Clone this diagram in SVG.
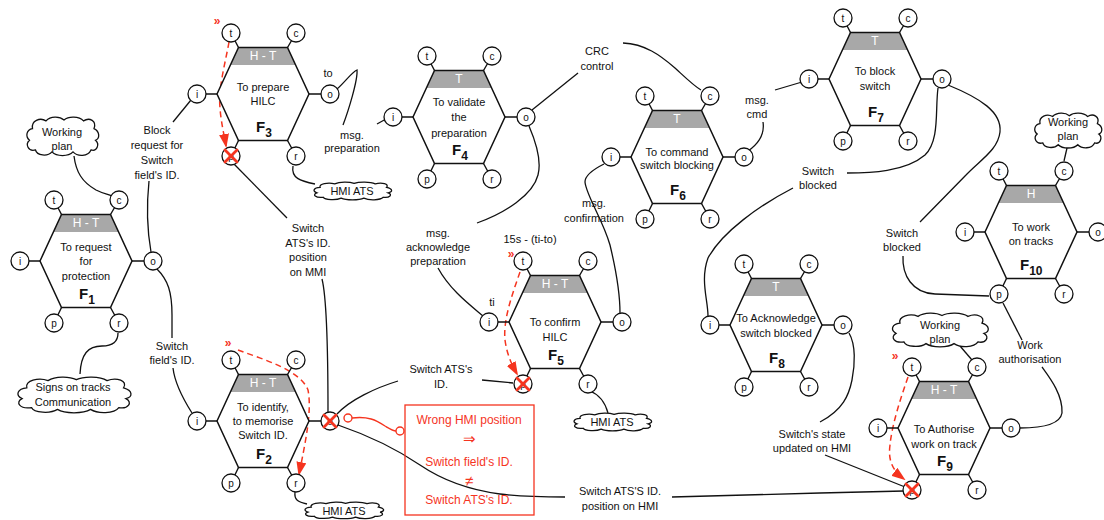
<svg xmlns="http://www.w3.org/2000/svg" xmlns:xlink="http://www.w3.org/1999/xlink" width="1104" height="520" viewBox="0 0 1104 520">
<style>
text{font-family:"Liberation Sans",Arial,sans-serif;font-size:11px;fill:#111;text-anchor:middle}
.hexfill{fill:#fff;stroke:none}
.hexline{fill:none;stroke:#111;stroke-width:1.5}
.band{fill:#a8a8a8;stroke:none}
.stub{stroke:#111;stroke-width:1.4;fill:none}
.port{fill:#fff;stroke:#111;stroke-width:1.3}
.pl{font-size:10px}
.bl{fill:#fff;font-size:12px}
.fl{font-size:15px;font-weight:bold;text-anchor:start}
.sub{font-size:12px}
.con{fill:none;stroke:#111;stroke-width:1.3}
.red{fill:none;stroke:#f5341f;stroke-width:1.4}
.dash{fill:none;stroke:#f5341f;stroke-width:1.5;stroke-dasharray:6 4}
.x{stroke:#f5341f;stroke-width:2.8;stroke-linecap:round}
.rt{fill:#f5341f;font-size:12px}
.sym{fill:#f5341f;font-size:15px}
.chev{fill:#f5341f;font-size:12px;font-weight:bold}
.cloud{fill:#fff;stroke:#111;stroke-width:1.3}
</style>
<defs>
<marker id="ah" markerUnits="userSpaceOnUse" markerWidth="14" markerHeight="10" viewBox="0 0 14 10" refX="12" refY="5" orient="auto">
<path d="M0,0 L14,5 L0,10 z" fill="#f5341f"/>
</marker>
<path id="cloudp" vector-effect="non-scaling-stroke" d="M10,12 C8,4 20,0 28,4 C34,-1 46,-1 52,3 C58,-1 72,-1 78,4 C86,0 96,4 92,12 C100,15 100,22 94,24 C100,28 96,36 88,34 C84,41 70,41 64,36 C58,41 42,41 36,36 C30,41 16,40 14,34 C4,36 0,28 6,24 C0,20 2,13 10,12 Z"/>
<g id="hex">
<path class="stub" d="M-32,-61 L-24.5,-46.5 M33,-61 L24.5,-46.5 M-66,0 L-46,0 M67,0 L46,0 M-32,62 L-24.5,46.5 M33,62 L24.5,46.5"/>
<polygon class="hexfill" points="-46,0 -24.5,-46.5 24.5,-46.5 46,0 24.5,46.5 -24.5,46.5"/>
<polygon class="band" points="-24.5,-46.5 24.5,-46.5 32.6,-29 -32.6,-29"/>
<polygon class="hexline" points="-46,0 -24.5,-46.5 24.5,-46.5 46,0 24.5,46.5 -24.5,46.5"/>
<circle class="port" cx="-32" cy="-61" r="9"/>
<circle class="port" cx="33" cy="-61" r="9"/>
<circle class="port" cx="-66" cy="0" r="9"/>
<circle class="port" cx="67" cy="0" r="9"/>
<circle class="port" cx="-32" cy="62" r="9"/>
<circle class="port" cx="33" cy="62" r="9"/>
<text class="pl" x="-32" y="-57.5">t</text>
<text class="pl" x="33" y="-57.5">c</text>
<text class="pl" x="-66" y="3.5">i</text>
<text class="pl" x="67" y="3.5">o</text>
<text class="pl" x="-32" y="65.5">p</text>
<text class="pl" x="33" y="65.5">r</text>
</g>
</defs>
<rect width="1104" height="520" fill="#fff"/>

<g id="connectors">
<path class="con" d="M74,156 C76,172 82,182 96,190 C104,194 108,194 112,196"/>
<path class="con" d="M191,100 L173,122"/>
<path class="con" d="M149,181 C146,210 148,235 151,252"/>
<path class="con" d="M157,269 C168,280 172,292 172,315 L172,338"/>
<path class="con" d="M173,368 C175,385 185,402 192,413"/>
<path class="con" d="M118,333 C118,342 112,346 102,346 C88,346 81,354 80,374"/>
<path class="con" d="M293,166 C291,178 300,181 315,184"/>
<path class="con" d="M337,89 C345,82 352,72 357,70 C358,80 348,112 343,125"/>
<path class="con" d="M377,124 L386,119"/>
<path class="con" d="M234,164 L287,218"/>
<path class="con" d="M322,279 C326,295 328,330 328,412"/>
<path class="con" d="M337,414 C350,400 375,388 398,381"/>
<path class="con" d="M482,380 L513,383"/>
<path class="con" d="M338,425 C370,436 395,448 420,465 C445,482 470,490 500,494 C525,497 545,497 565,497"/>
<path class="con" d="M672,497 L820,493 L904,491"/>
<path class="con" d="M532,110 L578,73"/>
<path class="con" d="M623,43 C645,44 660,55 675,68 C688,80 694,86 701,90"/>
<path class="con" d="M529,126 C535,140 542,160 538,175 C533,195 505,213 477,223"/>
<path class="con" d="M438,268 C450,290 470,305 483,316"/>
<path class="con" d="M604,164 C596,168 585,174 585,182 C586,195 603,220 610,245 C616,270 620,295 620,313"/>
<path class="con" d="M748,151 C758,144 765,135 763,122"/>
<path class="con" d="M775,90 L802,82"/>
<path class="con" d="M938,88 C935,110 940,140 925,155 C905,172 870,173 847,173"/>
<path class="con" d="M793,188 C760,205 722,232 708,258 C700,280 708,300 708,316"/>
<path class="con" d="M948,85 C980,98 1002,112 1000,132 C998,150 980,160 966,175 L920,222"/>
<path class="con" d="M903,256 C902,275 912,293 935,294 L989,296"/>
<path class="con" d="M1003,303 L1022,340"/>
<path class="con" d="M1042,367 C1050,378 1063,395 1062,413 C1060,425 1040,428 1020,428"/>
<path class="con" d="M1067,148 L1064,161"/>
<path class="con" d="M960,346 L972,360"/>
<path class="con" d="M849,333 C856,345 855,365 852,380 C849,395 843,410 820,422"/>
<path class="con" d="M825,455 L905,487"/>
<path class="con" d="M590,391 C600,395 605,402 608,413"/>
<path class="con" d="M295,492 C294,500 298,502 307,504"/>
<path class="red" d="M352,418 C368,416 376,420 385,426 C390,429 393,431 396,431"/>
<circle class="red" cx="348" cy="418" r="4" fill="#fff"/>
<circle class="red" cx="400" cy="431" r="4" fill="#fff"/>
<path class="dash" d="M229,42 C226,60 218,88 220,108 C221,122 224,134 226,146" marker-end="url(#ah)"/>
<path class="dash" d="M238,350 C265,360 300,370 308,390 C312,410 306,440 299,474" marker-end="url(#ah)"/>
<path class="dash" d="M520,272 C512,295 503,320 505,340 C507,355 512,365 517,374" marker-end="url(#ah)"/>
<path class="dash" d="M908,377 C900,400 892,425 890,445 C888,460 892,470 904,479" marker-end="url(#ah)"/>
</g>

<g id="clouds">
<use href="#cloudp" class="cloud" transform="translate(25,117) scale(0.75,0.97)"/>
<text x="62" y="136">Working</text><text x="62" y="150">plan</text>
<use href="#cloudp" class="cloud" transform="translate(15,377) scale(1.18,0.9)"/>
<text x="73" y="391">Signs on tracks</text><text x="73" y="406">Communication</text>
<use href="#cloudp" class="cloud" transform="translate(312,182) scale(0.81,0.45)"/>
<text x="352" y="195">HMI ATS</text>
<use href="#cloudp" class="cloud" transform="translate(303,502) scale(0.82,0.42)"/>
<text x="344" y="515">HMI ATS</text>
<use href="#cloudp" class="cloud" transform="translate(572,413) scale(0.81,0.45)"/>
<text x="612" y="426">HMI ATS</text>
<use href="#cloudp" class="cloud" transform="translate(1033,113) scale(0.7,0.88)"/>
<text x="1068" y="126">Working</text><text x="1068" y="140">plan</text>
<use href="#cloudp" class="cloud" transform="translate(890,313) scale(1.0,0.85)"/>
<text x="940" y="329">Working</text><text x="940" y="343">plan</text>
</g>

<g id="labels">
<text x="157" y="134">Block</text><text x="157" y="149">request for</text><text x="157" y="164">Switch</text><text x="157" y="179">field's ID.</text>
<text x="172" y="350">Switch</text><text x="172" y="364">field's ID.</text>
<text x="328" y="77">to</text>
<text x="352" y="139">msg.</text><text x="352" y="152">preparation</text>
<text x="308" y="232">Switch</text><text x="308" y="247">ATS's ID.</text><text x="308" y="261">position</text><text x="308" y="276">on MMI</text>
<text x="441" y="373">Switch ATS's</text><text x="441" y="388">ID.</text>
<text x="597" y="55">CRC</text><text x="597" y="70">control</text>
<text x="438" y="237">msg.</text><text x="438" y="251">acknowledge</text><text x="438" y="265">preparation</text>
<text x="492" y="306">ti</text>
<text x="530" y="243">15s - (ti-to)</text>
<text x="594" y="207">msg.</text><text x="594" y="222">confirmation</text>
<text x="757" y="104">msg.</text><text x="757" y="118">cmd</text>
<text x="818" y="175">Switch</text><text x="818" y="189">blocked</text>
<text x="902" y="237">Switch</text><text x="902" y="251">blocked</text>
<text x="1030" y="349">Work</text><text x="1030" y="363">authorisation</text>
<text x="812" y="438">Switch's state</text><text x="812" y="452">updated on HMI</text>
<text x="620" y="495">Switch ATS'S ID.</text><text x="620" y="510">position on HMI</text>
<text class="chev" x="217" y="25">»</text>
<text class="chev" x="228" y="347">»</text>
<text class="chev" x="511" y="258">»</text>
<text class="chev" x="895" y="360">»</text>
</g>

<g id="note">
<rect x="405" y="405" width="129" height="110" fill="none" stroke="#f5341f" stroke-width="1.3"/>
<text class="rt" x="469" y="424">Wrong HMI position</text>
<text class="sym" x="469" y="444">⇒</text>
<text class="rt" x="469" y="466">Switch field's ID.</text>
<text class="sym" x="469" y="486">≠</text>
<text class="rt" x="469" y="504">Switch ATS's ID.</text>
</g>

<g id="F1" transform="translate(86,261)">
<use href="#hex"/>
<text class="bl" x="0" y="-34">H - T</text>
<text x="0" y="-10">To request</text><text x="0" y="4">for</text><text x="0" y="19">protection</text>
<text class="fl" x="-7" y="38">F<tspan class="sub" dy="5">1</tspan></text>
</g>
<g id="F2" transform="translate(263,421)">
<use href="#hex"/>
<text class="bl" x="0" y="-34">H - T</text>
<text x="0" y="-10">To identify,</text><text x="0" y="4">to memorise</text><text x="0" y="18">Switch ID.</text>
<text class="fl" x="-7" y="38">F<tspan class="sub" dy="5">2</tspan></text>
<path class="x" d="M61,-6 L73,6 M73,-6 L61,6"/>
</g>
<g id="F3" transform="translate(263,94)">
<use href="#hex"/>
<text class="bl" x="0" y="-34">H - T</text>
<text x="0" y="-3">To prepare</text><text x="0" y="11">HILC</text>
<text class="fl" x="-7" y="38">F<tspan class="sub" dy="5">3</tspan></text>
<path class="x" d="M-38,56 L-26,68 M-26,56 L-38,68"/>
</g>
<g id="F4" transform="translate(459,117)">
<use href="#hex"/>
<text class="bl" x="0" y="-34">T</text>
<text x="0" y="-11">To validate</text><text x="0" y="4">the</text><text x="0" y="20">preparation</text>
<text class="fl" x="-7" y="38">F<tspan class="sub" dy="5">4</tspan></text>
</g>
<g id="F5" transform="translate(555,322)">
<use href="#hex"/>
<text class="bl" x="0" y="-34">H - T</text>
<text x="0" y="4">To confirm</text><text x="0" y="19">HILC</text>
<text class="fl" x="-7" y="38">F<tspan class="sub" dy="5">5</tspan></text>
<path class="x" d="M-38,56 L-26,68 M-26,56 L-38,68"/>
</g>
<g id="F6" transform="translate(677,157)">
<use href="#hex"/>
<text class="bl" x="0" y="-34">T</text>
<text x="0" y="-1">To command</text><text x="0" y="12">switch blocking</text>
<text class="fl" x="-7" y="38">F<tspan class="sub" dy="5">6</tspan></text>
</g>
<g id="F7" transform="translate(875,79)">
<use href="#hex"/>
<text class="bl" x="0" y="-34">T</text>
<text x="0" y="-4">To block</text><text x="0" y="11">switch</text>
<text class="fl" x="-7" y="38">F<tspan class="sub" dy="5">7</tspan></text>
</g>
<g id="F8" transform="translate(776,325)">
<use href="#hex"/>
<text class="bl" x="0" y="-34">T</text>
<text x="0" y="-3">To Acknowledge</text><text x="0" y="12">switch blocked</text>
<text class="fl" x="-7" y="38">F<tspan class="sub" dy="5">8</tspan></text>
</g>
<g id="F9" transform="translate(944,428)">
<use href="#hex"/>
<text class="bl" x="0" y="-34">H - T</text>
<text x="0" y="5">To Authorise</text><text x="0" y="20">work on track</text>
<text class="fl" x="-7" y="38">F<tspan class="sub" dy="5">9</tspan></text>
<path class="x" d="M-38,56 L-26,68 M-26,56 L-38,68"/>
</g>
<g id="F10" transform="translate(1031,232)">
<use href="#hex"/>
<text class="bl" x="0" y="-34">H</text>
<text x="0" y="-1">To work</text><text x="0" y="13">on tracks</text>
<text class="fl" x="-11" y="38">F<tspan class="sub" dy="5">10</tspan></text>
</g>
</svg>
